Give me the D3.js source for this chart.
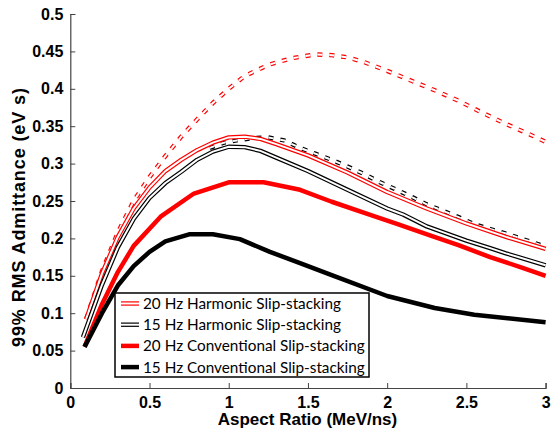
<!DOCTYPE html>
<html>
<head>
<meta charset="utf-8">
<script src="https://cdn.jsdelivr.net/npm/d3@7"></script>
<style>
  body { margin: 0; background: #fff; }
  svg { display: block; }
</style>
</head>
<body>
<svg id="chart" width="554" height="429"></svg>
<script>
// x ticks / y ticks
const xTicks = [0, 0.5, 1, 1.5, 2, 2.5, 3];
const yTicks = [0, 0.05, 0.1, 0.15, 0.2, 0.25, 0.3, 0.35, 0.4, 0.45, 0.5];

// dashed double lines (no legend entry)
const redDashX = [0.1, 0.2, 0.3, 0.4, 0.5, 0.6, 0.7, 0.8, 0.9, 1.0, 1.1, 1.25, 1.4, 1.55, 1.65, 1.75, 1.85, 2.0, 2.15, 2.3, 2.45, 2.6, 2.75, 2.9, 3.0];
const redDashY = [0.092, 0.156, 0.208, 0.250, 0.282, 0.310, 0.336, 0.359, 0.381, 0.400, 0.417, 0.432, 0.441, 0.446, 0.445, 0.442, 0.436, 0.424, 0.411, 0.398, 0.384, 0.368, 0.353, 0.339, 0.329];

const blackDashX = [0.88, 0.97, 1.05, 1.15, 1.25, 1.35, 1.45, 1.55, 1.65, 1.75, 1.85, 1.95, 2.05, 2.15, 2.25, 2.35, 2.45, 2.55, 2.65, 2.75, 2.85, 2.95, 3.0];
const blackDashY = [0.321, 0.328, 0.331, 0.334, 0.335, 0.331, 0.321, 0.313, 0.305, 0.296, 0.2865, 0.2755, 0.266, 0.256, 0.2455, 0.237, 0.2285, 0.219, 0.2125, 0.2065, 0.1995, 0.1925, 0.189];

// 20 Hz harmonic
const red20HX = [0.1, 0.2, 0.3, 0.4, 0.5, 0.6, 0.7, 0.8, 0.9, 1.0, 1.1, 1.2, 1.3, 1.5, 1.75, 2.0, 2.25, 2.5, 2.75, 3.0];
const red20HY = [0.092, 0.153, 0.202, 0.240, 0.268, 0.290, 0.305, 0.318, 0.328, 0.335, 0.336, 0.333, 0.326, 0.311, 0.288, 0.262, 0.240, 0.220, 0.202, 0.186];

// 15 Hz harmonic
const blk15HX = [0.08, 0.2, 0.3, 0.4, 0.5, 0.6, 0.7, 0.8, 0.9, 1.0, 1.1, 1.2, 1.3, 1.5, 1.75, 2.0, 2.1, 2.25, 2.5, 2.65, 2.75, 3.0];
const blk15HY = [0.068, 0.138, 0.188, 0.226, 0.254, 0.274, 0.289, 0.305, 0.316, 0.3225, 0.322, 0.317, 0.308, 0.290, 0.265, 0.240, 0.232, 0.216, 0.197, 0.187, 0.180, 0.164];

// 20 Hz conventional
const red20CX = [0.09, 0.2, 0.3, 0.4, 0.57, 0.78, 1.0, 1.22, 1.45, 1.65, 1.87, 2.08, 2.27, 2.45, 2.65, 2.85, 3.0];
const red20CY = [0.055, 0.112, 0.155, 0.190, 0.229, 0.260, 0.275, 0.275, 0.265, 0.249, 0.233, 0.218, 0.204, 0.191, 0.175, 0.161, 0.150];

// 15 Hz conventional
const blk15CX = [0.09, 0.2, 0.3, 0.4, 0.5, 0.6, 0.75, 0.9, 1.07, 1.26, 1.45, 1.65, 2.0, 2.3, 2.55, 3.0];
const blk15CY = [0.055, 0.100, 0.137, 0.163, 0.182, 0.196, 0.2055, 0.2055, 0.199, 0.182, 0.167, 0.151, 0.123, 0.107, 0.098, 0.088];

const legendLabels = ["20 Hz Harmonic Slip-stacking", "15 Hz Harmonic Slip-stacking",
                      "20 Hz Conventional Slip-stacking", "15 Hz Conventional Slip-stacking"];

const svg = d3.select("#chart");
const x = d3.scaleLinear().domain([0, 3]).range([70.3, 545.6]);
const y = d3.scaleLinear().domain([0, 0.5]).range([388, 14]);

const zip = (xs, ys) => xs.map((v, i) => [v, ys[i]]);
const line = d3.line().x(d => x(d[0])).y(d => y(d[1]));

// style: double = coloured stroke with a white core
function drawSeries(pts, color, kind, dashed) {
    let g = svg.append("g");
    let dash = dashed ? "5,7" : null;
    if (kind == "double") {
        g.append("path").attr("d", line(pts)).attr("fill", "none")
            .attr("stroke", color).attr("stroke-width", 4.4)
            .attr("stroke-dasharray", dash).attr("stroke-linejoin", "round");
        g.append("path").attr("d", line(pts)).attr("fill", "none")
            .attr("stroke", "#fff").attr("stroke-width", 2)
            .attr("stroke-dasharray", dash).attr("stroke-linejoin", "round");
    } else {
        g.append("path").attr("d", line(pts)).attr("fill", "none")
            .attr("stroke", color).attr("stroke-width", 4.5)
            .attr("stroke-linejoin", "round");
    }
}

drawSeries(zip(redDashX, redDashY), "#ff0000", "double", true);
drawSeries(zip(blackDashX, blackDashY), "#000", "double", true);
drawSeries(zip(red20HX, red20HY), "#ff0000", "double", false);
drawSeries(zip(blk15HX, blk15HY), "#000", "double", false);
drawSeries(zip(red20CX, red20CY), "#ff0000", "thick", false);
drawSeries(zip(blk15CX, blk15CY), "#000", "thick", false);

// axes
const axisColor = "#444";
const xAxis = d3.axisBottom(x).tickValues(xTicks).tickSize(-5).tickPadding(9).tickFormat(d3.format("~g"));
const yAxis = d3.axisLeft(y).tickValues(yTicks).tickSize(-5).tickPadding(7).tickFormat(d3.format("~g"));

const gx = svg.append("g").attr("transform", "translate(0,388)").call(xAxis);
const gy = svg.append("g").attr("transform", "translate(70.3,0)").call(yAxis);
[gx, gy].forEach(g => {
    g.select(".domain").attr("stroke", axisColor).attr("stroke-width", 1.2);
    g.selectAll(".tick line").attr("stroke", axisColor);
    g.selectAll(".tick text").attr("fill", "#000")
        .style("font-family", "'Liberation Sans', Arial, sans-serif")
        .style("font-weight", "bold").style("font-size", "16px");
});
gx.selectAll(".tick text").attr("dy", "0.71em");

svg.append("text").attr("x", 307.5).attr("y", 425).attr("text-anchor", "middle")
    .style("font-family", "'Liberation Sans', Arial, sans-serif")
    .style("font-weight", "bold").style("font-size", "17px")
    .text("Aspect Ratio (MeV/ns)");

svg.append("text").attr("transform", "translate(25,217.5) rotate(-90)")
    .attr("text-anchor", "middle")
    .attr("textLength", 259).attr("lengthAdjust", "spacing")
    .style("font-family", "'Liberation Sans', Arial, sans-serif")
    .style("font-weight", "bold").style("font-size", "18px")
    .text("99% RMS Admittance (eV s)");

// legend
const legend = svg.append("g");
legend.append("rect").attr("x", 115).attr("y", 293).attr("width", 254).attr("height", 84)
    .attr("fill", "#fff").attr("stroke", "#000").attr("stroke-width", 1.5);
const legendColor = ["#ff0000", "#000", "#ff0000", "#000"];
const legendKind = ["double", "double", "thick", "thick"];
legendLabels.forEach((lab, i) => {
    let cy = 303.5 + i * 21.2;
    legend.append("line").attr("x1", 121).attr("x2", 139).attr("y1", cy).attr("y2", cy)
        .attr("stroke", legendColor[i]).attr("stroke-width", legendKind[i] == "double" ? 4.4 : 4.5);
    if (legendKind[i] == "double")
        legend.append("line").attr("x1", 121).attr("x2", 139).attr("y1", cy).attr("y2", cy)
            .attr("stroke", "#fff").attr("stroke-width", 2);
    legend.append("text").attr("x", 143).attr("y", cy + 5.5)
        .style("font-family", "Lato, 'Open Sans', sans-serif").style("font-size", "15.3px")
        .text(lab);
});
</script>
</body>
</html>
